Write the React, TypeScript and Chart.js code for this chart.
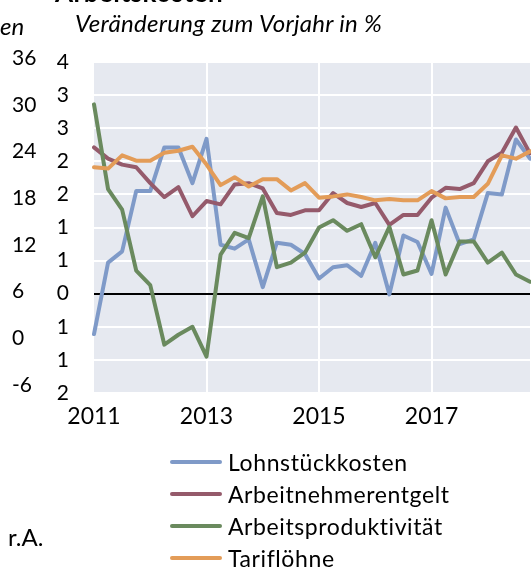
import React, { useEffect, useRef } from 'react';
import { Chart, registerables } from 'chart.js';

Chart.register(...registerables);

// ---------- data ----------
const categories = [
  '2011 Q1', '2011 Q2', '2011 Q3', '2011 Q4',
  '2012 Q1', '2012 Q2', '2012 Q3', '2012 Q4',
  '2013 Q1', '2013 Q2', '2013 Q3', '2013 Q4',
  '2014 Q1', '2014 Q2', '2014 Q3', '2014 Q4',
  '2015 Q1', '2015 Q2', '2015 Q3', '2015 Q4',
  '2016 Q1', '2016 Q2', '2016 Q3', '2016 Q4',
  '2017 Q1', '2017 Q2', '2017 Q3', '2017 Q4',
  '2018 Q1', '2018 Q2', '2018 Q3', '2018 Q4',
];

const seriesNames = ['Lohnstückkosten', 'Arbeitnehmerentgelt', 'Arbeitsproduktivität', 'Tariflöhne'];

const lohnstueckkosten = [-0.61, 0.47, 0.64, 1.55, 1.55, 2.21, 2.21, 1.67, 2.34, 0.74, 0.68, 0.82, 0.10, 0.77, 0.74, 0.60, 0.23, 0.40, 0.43, 0.27, 0.77, -0.01, 0.88, 0.78, 0.30, 1.30, 0.75, 0.82, 1.52, 1.50, 2.33, 2.04];
const arbeitnehmerentgelt = [2.21, 2.04, 1.95, 1.91, 1.67, 1.46, 1.61, 1.17, 1.40, 1.35, 1.65, 1.67, 1.59, 1.22, 1.19, 1.26, 1.26, 1.52, 1.37, 1.31, 1.37, 1.04, 1.19, 1.19, 1.45, 1.60, 1.58, 1.67, 2.00, 2.13, 2.51, 2.12];
const arbeitsproduktivitaet = [2.86, 1.58, 1.27, 0.35, 0.13, -0.77, -0.62, -0.50, -0.95, 0.59, 0.92, 0.84, 1.47, 0.40, 0.47, 0.62, 1.00, 1.11, 0.95, 1.05, 0.55, 1.01, 0.29, 0.35, 1.11, 0.29, 0.79, 0.79, 0.47, 0.62, 0.29, 0.18];
const tarifloehne = [1.91, 1.89, 2.09, 2.01, 2.01, 2.13, 2.16, 2.22, 1.95, 1.64, 1.76, 1.62, 1.73, 1.73, 1.56, 1.67, 1.45, 1.47, 1.50, 1.46, 1.41, 1.43, 1.41, 1.41, 1.55, 1.44, 1.46, 1.46, 1.66, 2.09, 2.04, 2.15];

const xTickLabels = ['2011', '2013', '2015', '2017'];
const yTickValues = [3.5, 3, 2.5, 2, 1.5, 1, 0.5, 0, -0.5, -1, -1.5];
const yTickLabels = ['4', '3', '3', '2', '2', '1', '1', '0', '1', '1', '2'];
const outerTickValues = [36, 30, 24, 18, 12, 6, 0, -6];
const outerTickLabels = ['36', '30', '24', '18', '12', '6', '0', '-6'];

const colors = ['#7F9AC8', '#955A6B', '#6A8A5E', '#E39C58'];
const plotBg = '#E6E9F0';
const FONT = 'Lato, "Open Sans", sans-serif';

const bgPlugin = {
  id: 'plotBg',
  beforeDraw(chart: any) {
    const { ctx, chartArea } = chart;
    if (!chartArea) return;
    ctx.save();
    ctx.fillStyle = plotBg;
    ctx.fillRect(chartArea.left, chartArea.top, chartArea.right - chartArea.left, chartArea.bottom - chartArea.top);
    ctx.restore();
  },
};

export default function App() {
  const ref = useRef<HTMLCanvasElement | null>(null);

  useEffect(() => {
    if (!ref.current) return;
    Chart.defaults.font.family = FONT;
    Chart.defaults.color = '#000';
    const series = [lohnstueckkosten, arbeitnehmerentgelt, arbeitsproduktivitaet, tarifloehne];
    const chart = new Chart(ref.current, {
      type: 'line',
      data: {
        labels: categories,
        datasets: series.map((d, i) => ({
          label: seriesNames[i],
          data: d,
          borderColor: colors[i],
          backgroundColor: colors[i],
          borderWidth: 4,
          pointRadius: 0,
          tension: 0,
          borderJoinStyle: 'round' as const,
          borderCapStyle: 'round' as const,
          order: 4 - i,
        })),
      },
      options: {
        responsive: false,
        animation: false,
        layout: { padding: { left: 12, top: 62, right: 0, bottom: 135 } },
        plugins: { legend: { display: false }, tooltip: { enabled: false } },
        scales: {
          x: {
            type: 'category',
            offset: false,
            border: { display: false },
            grid: {
              drawTicks: false,
              lineWidth: 2,
              color: (ctx: any) => {
                const c = categories[ctx.index] || '';
                const [yr, q] = c.split(' ');
                return ctx.index > 0 && q === 'Q1' && xTickLabels.includes(yr) ? '#FFFFFF' : 'rgba(0,0,0,0)';
              },
            },
            ticks: {
              autoSkip: false,
              maxRotation: 0,
              padding: 10,
              font: { size: 23, family: FONT },
              color: '#000',
              callback: (_v: any, idx: number) => {
                const [yr, q] = categories[idx].split(' ');
                return q === 'Q1' && xTickLabels.includes(yr) ? yr : '';
              },
            },
            afterFit: (s: any) => { s.height = 40; },
          },
          y: {
            type: 'linear',
            position: 'left',
            weight: 0,
            min: -1.5,
            max: 3.5,
            border: { display: false },
            grid: {
              drawTicks: false,
              lineWidth: 2,
              color: (ctx: any) => (ctx.tick && ctx.tick.value === 0 ? '#000000' : '#FFFFFF'),
            },
            afterBuildTicks: (s: any) => { s.ticks = yTickValues.map((v) => ({ value: v })); },
            ticks: {
              autoSkip: false,
              padding: 25,
              font: { size: 21, family: FONT },
              color: '#000',
              callback: (v: any) => yTickLabels[yTickValues.indexOf(Number(v))] ?? '',
            },
            afterFit: (s: any) => { s.width = 42; },
          },
          y2: {
            type: 'linear',
            position: 'left',
            weight: 10,
            min: -7.03,
            max: 35.5,
            border: { display: false },
            grid: { display: false, drawTicks: false },
            afterBuildTicks: (s: any) => { s.ticks = outerTickValues.map((v) => ({ value: v })); },
            ticks: {
              autoSkip: false,
              crossAlign: 'far',
              padding: 0,
              font: { size: 21, family: FONT },
              color: '#000',
              callback: (v: any) => outerTickLabels[outerTickValues.indexOf(Number(v))] ?? '',
            },
            afterFit: (s: any) => { s.width = 40; },
          },
        },
      },
      plugins: [bgPlugin],
    } as any);
    return () => chart.destroy();
  }, []);

  const legendTop = 462;
  const legendStep = 32;

  return (
    <div style={{ position: 'absolute', left: 0, top: 0, width: 531, height: 568, overflow: 'hidden', background: '#fff', fontFamily: FONT, color: '#000' }}>
      <canvas ref={ref} width={540} height={568} style={{ position: 'absolute', left: 0, top: 0, width: 540, height: 568 }} />
      <div style={{ position: 'absolute', left: 55, top: -21, font: `bold 26px ${FONT}`, lineHeight: '26px', whiteSpace: 'nowrap', letterSpacing: '0.5px' }}>Arbeitskosten</div>
      <div style={{ position: 'absolute', left: 0, top: 14, font: `italic 24px ${FONT}`, lineHeight: '23px', whiteSpace: 'nowrap' }}>en</div>
      <div style={{ position: 'absolute', left: 75, top: 11, font: `italic 24px ${FONT}`, lineHeight: '23px', whiteSpace: 'nowrap', letterSpacing: '0.3px' }}>Veränderung zum Vorjahr in %</div>
      <div style={{ position: 'absolute', left: 8, top: 526, font: `24px ${FONT}`, lineHeight: '22px', whiteSpace: 'nowrap' }}>r.A.</div>
      {seriesNames.map((name, i) => (
        <div key={name} style={{ position: 'absolute', left: 170, top: legendTop + i * legendStep - 16, height: 32, display: 'flex', alignItems: 'center', whiteSpace: 'nowrap' }}>
          <div style={{ width: 52, height: 4, borderRadius: 2, background: colors[i], marginRight: 6 }} />
          <span style={{ font: `23px ${FONT}`, lineHeight: '32px', letterSpacing: '0.6px' }}>{name}</span>
        </div>
      ))}
    </div>
  );
}
